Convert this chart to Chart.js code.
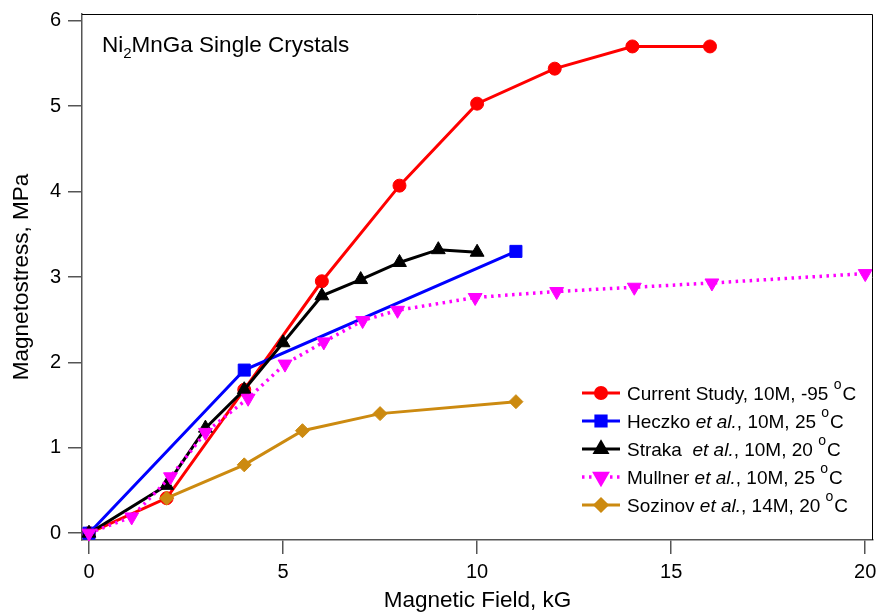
<!DOCTYPE html>
<html>
<head>
<meta charset="utf-8">
<script src="https://cdn.jsdelivr.net/npm/chart.js@4"></script>
<style>
  html, body { margin: 0; padding: 0; background: #fff; }
  #wrap { width: 876px; height: 614px; }
</style>
</head>
<body>
<div id="wrap"><canvas id="chart" width="876" height="614"></canvas></div>
<script>
// data (field in kG, stress in MPa)
const fieldCurrent = [0, 2, 4, 6, 8, 10, 12, 14, 16];
const stressCurrent = [0, 0.41, 1.68, 2.95, 4.07, 5.03, 5.44, 5.70, 5.70];

const fieldHeczko = [0, 4, 11];
const stressHeczko = [0, 1.91, 3.30];

const fieldStraka = [0, 2, 3, 4, 5, 6, 7, 8, 9, 10];
const stressStraka = [0, 0.56, 1.23, 1.68, 2.23, 2.78, 2.97, 3.17, 3.32, 3.29];

const fieldMullner = [0, 1.1, 2.1, 3.0, 4.1, 5.05, 6.05, 7.05, 7.95, 9.95, 12.05, 14.05, 16.05, 20.0];
const stressMullner = [0, 0.19, 0.66, 1.18, 1.58, 1.98, 2.24, 2.49, 2.61, 2.76, 2.83, 2.88, 2.93, 3.04];

const fieldSozinov = [2, 4, 5.5, 7.5, 11];
const stressSozinov = [0.41, 0.80, 1.20, 1.40, 1.54];

const xTicks = [0, 5, 10, 15, 20];
const yTicks = [0, 1, 2, 3, 4, 5, 6];

// legend labels, split so "et al." can be italic and the degree sign raised
const legendLabels = [
  [["Current Study, 10M, -95 "], ["o", "sup"], ["C"]],
  [["Heczko "], ["et al.", "i"], [", 10M, 25 "], ["o", "sup"], ["C"]],
  [["Straka  "], ["et al.", "i"], [", 10M, 20 "], ["o", "sup"], ["C"]],
  [["Mullner "], ["et al.", "i"], [", 10M, 25 "], ["o", "sup"], ["C"]],
  [["Sozinov "], ["et al.", "i"], [", 14M, 20 "], ["o", "sup"], ["C"]],
];

const FONT = "'Liberation Sans', Arial, sans-serif";

// big markers would otherwise push the plot area in from the right edge
Chart.registry.getController("scatter").prototype.getMaxOverflow = function () {
  return 0;
};

function pts(xs, ys) {
  return xs.map((x, i) => ({ x: x, y: ys[i] }));
}

const gold = "#cc8a10";

const datasets = [
  {
    data: pts(fieldCurrent, stressCurrent),
    borderColor: "#ff0000", backgroundColor: "#ff0000",
    borderWidth: 3, pointStyle: "circle", pointRadius: 6.5,
  },
  {
    data: pts(fieldHeczko, stressHeczko),
    borderColor: "#0000ff", backgroundColor: "#0000ff",
    borderWidth: 3, pointStyle: "rect", pointRadius: 8.5,
  },
  {
    data: pts(fieldStraka, stressStraka),
    borderColor: "#000000", backgroundColor: "#000000",
    borderWidth: 3, pointStyle: "triangle", pointRadius: 8,
  },
  {
    data: pts(fieldMullner, stressMullner),
    borderColor: "#ff00ff", backgroundColor: "#ff00ff",
    borderWidth: 3.5, borderDash: [2.5, 4.5], pointStyle: "triangle",
    pointRotation: 180, pointRadius: 8,
  },
  {
    data: pts(fieldSozinov, stressSozinov),
    borderColor: gold, backgroundColor: gold,
    borderWidth: 3, pointStyle: "rectRot", pointRadius: 7,
  },
];

// later traces sit on top, as in the original
datasets.forEach((d, i) => {
  d.order = datasets.length - i;
  d.showLine = true;
  d.tension = 0;
  d.pointBorderWidth = 1;
  d.pointHoverRadius = d.pointRadius;
  d.fill = false;
  d.clip = false;
});

const framePlugin = {
  id: "frame",
  afterDraw(chart) {
    const ctx = chart.ctx;
    const a = chart.chartArea;
    ctx.save();
    ctx.strokeStyle = "#000";
    ctx.lineWidth = 1;
    ctx.beginPath();
    ctx.moveTo(a.left, a.top + 0.5);
    ctx.lineTo(a.right - 0.5, a.top + 0.5);
    ctx.lineTo(a.right - 0.5, a.bottom);
    ctx.stroke();

    // label in the top left corner
    ctx.fillStyle = "#000";
    ctx.textBaseline = "alphabetic";
    ctx.textAlign = "left";
    let x = a.left + 20;
    const y = a.top + 38;
    ctx.font = "22.5px " + FONT;
    ctx.fillText("Ni", x, y);
    x += ctx.measureText("Ni").width;
    ctx.font = "15px " + FONT;
    ctx.fillText("2", x, y + 6);
    x += ctx.measureText("2").width;
    ctx.font = "22.5px " + FONT;
    ctx.fillText("MnGa Single Crystals", x, y);

    // legend
    const lx = 582;
    let ly = a.top + 379;
    chart.data.datasets.forEach((ds, i) => {
      ctx.save();
      ctx.strokeStyle = ds.borderColor;
      ctx.lineWidth = ds.borderWidth;
      ctx.setLineDash(ds.borderDash || []);
      ctx.beginPath();
      ctx.moveTo(lx, ly);
      ctx.lineTo(lx + 38, ly);
      ctx.stroke();
      ctx.setLineDash([]);
      ctx.fillStyle = ds.backgroundColor;
      Chart.helpers.drawPoint(ctx, {
        pointStyle: ds.pointStyle,
        rotation: ds.pointRotation || 0,
        radius: ds.pointRadius * 0.85,
        borderWidth: 1,
      }, lx + 19, ly);
      ctx.restore();

      let tx = lx + 45;
      ctx.fillStyle = "#000";
      legendLabels[i].forEach(seg => {
        const kind = seg[1];
        let dy = 7;
        if (kind === "i") ctx.font = "italic 19px " + FONT;
        else if (kind === "sup") { ctx.font = "14px " + FONT; dy = -4; }
        else ctx.font = "19px " + FONT;
        ctx.fillText(seg[0], tx, ly + dy);
        tx += ctx.measureText(seg[0]).width + (kind === "sup" ? 1 : 0);
      });
      ly += 28;
    });
    ctx.restore();
  },
};

new Chart(document.getElementById("chart"), {
  type: "scatter",
  data: { datasets: datasets },
  options: {
    responsive: false,
    animation: false,
    layout: { padding: { top: 14, right: 3, left: 0, bottom: 0 } },
    plugins: {
      legend: { display: false },
      tooltip: { enabled: false },
    },
    scales: {
      x: {
        type: "linear",
        min: -0.18,
        max: 20.2,
        afterBuildTicks: s => { s.ticks = xTicks.map(v => ({ value: v })); },
        afterFit: s => { s.height = 74; s.paddingLeft = 0; s.paddingRight = 0; },
        grid: { drawOnChartArea: false, drawTicks: true, tickLength: 14, color: "#555", lineWidth: 1.5 },
        border: { color: "#555", width: 1.5 },
        ticks: { color: "#000", font: { size: 20, family: FONT }, padding: 6, maxRotation: 0 },
        title: {
          display: true, text: "Magnetic Field, kG", color: "#000",
          font: { size: 22.5, family: FONT }, padding: { top: 0, bottom: 0 },
        },
      },
      y: {
        type: "linear",
        min: -0.08,
        max: 6.08,
        afterBuildTicks: s => { s.ticks = yTicks.map(v => ({ value: v })); },
        afterFit: s => { s.width = 82; s.paddingTop = 0; s.paddingBottom = 0; },
        grid: { drawOnChartArea: false, drawTicks: true, tickLength: 14, color: "#555", lineWidth: 1.5 },
        border: { color: "#555", width: 1.5 },
        ticks: { color: "#000", font: { size: 20, family: FONT }, padding: 7 },
        title: {
          display: true, text: "Magnetostress, MPa", color: "#000",
          font: { size: 22.5, family: FONT }, padding: { top: 8, bottom: 0 },
        },
      },
    },
  },
  plugins: [framePlugin],
});
</script>
</body>
</html>
